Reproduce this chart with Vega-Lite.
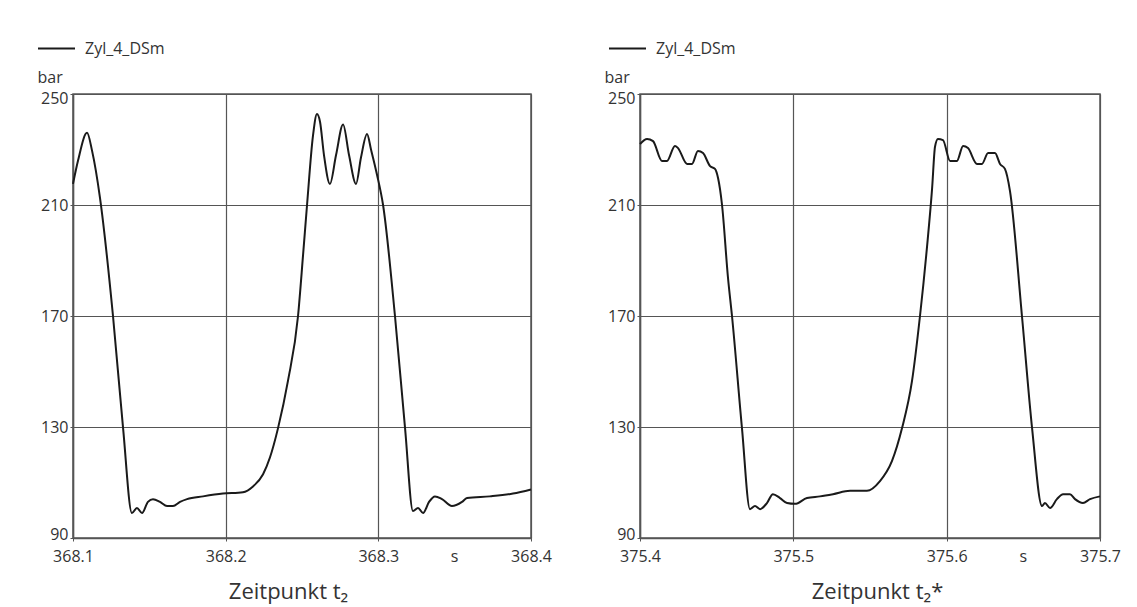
{
  "$schema": "https://vega.github.io/schema/vega-lite/v6.json",
  "background": "white",
  "padding": {"left": 36, "top": 28, "right": 5, "bottom": 5},
  "bounds": "flush",
  "spacing": 109,
  "datasets": {
    "left": [
      {"t": 368.1000, "p": 217.6, "s": "Zyl_4_DSm"},
      {"t": 368.1033, "p": 226.0, "s": "Zyl_4_DSm"},
      {"t": 368.1092, "p": 236.0, "s": "Zyl_4_DSm"},
      {"t": 368.1125, "p": 229.5, "s": "Zyl_4_DSm"},
      {"t": 368.1177, "p": 212.5, "s": "Zyl_4_DSm"},
      {"t": 368.1262, "p": 170.0, "s": "Zyl_4_DSm"},
      {"t": 368.1328, "p": 129.6, "s": "Zyl_4_DSm"},
      {"t": 368.1386, "p": 99.0, "s": "Zyl_4_DSm"},
      {"t": 368.1419, "p": 100.8, "s": "Zyl_4_DSm"},
      {"t": 368.1452, "p": 99.0, "s": "Zyl_4_DSm"},
      {"t": 368.1491, "p": 103.0, "s": "Zyl_4_DSm"},
      {"t": 368.1524, "p": 104.0, "s": "Zyl_4_DSm"},
      {"t": 368.1570, "p": 103.0, "s": "Zyl_4_DSm"},
      {"t": 368.1616, "p": 101.5, "s": "Zyl_4_DSm"},
      {"t": 368.1655, "p": 101.5, "s": "Zyl_4_DSm"},
      {"t": 368.1701, "p": 103.0, "s": "Zyl_4_DSm"},
      {"t": 368.1747, "p": 104.0, "s": "Zyl_4_DSm"},
      {"t": 368.1852, "p": 105.0, "s": "Zyl_4_DSm"},
      {"t": 368.1982, "p": 106.0, "s": "Zyl_4_DSm"},
      {"t": 368.2113, "p": 106.5, "s": "Zyl_4_DSm"},
      {"t": 368.2179, "p": 108.6, "s": "Zyl_4_DSm"},
      {"t": 368.2245, "p": 113.0, "s": "Zyl_4_DSm"},
      {"t": 368.2290, "p": 119.0, "s": "Zyl_4_DSm"},
      {"t": 368.2343, "p": 129.6, "s": "Zyl_4_DSm"},
      {"t": 368.2408, "p": 146.6, "s": "Zyl_4_DSm"},
      {"t": 368.2474, "p": 170.0, "s": "Zyl_4_DSm"},
      {"t": 368.2507, "p": 192.0, "s": "Zyl_4_DSm"},
      {"t": 368.2533, "p": 210.0, "s": "Zyl_4_DSm"},
      {"t": 368.2572, "p": 235.0, "s": "Zyl_4_DSm"},
      {"t": 368.2598, "p": 242.8, "s": "Zyl_4_DSm"},
      {"t": 368.2618, "p": 240.0, "s": "Zyl_4_DSm"},
      {"t": 368.2644, "p": 228.0, "s": "Zyl_4_DSm"},
      {"t": 368.2683, "p": 217.6, "s": "Zyl_4_DSm"},
      {"t": 368.2723, "p": 228.0, "s": "Zyl_4_DSm"},
      {"t": 368.2769, "p": 239.0, "s": "Zyl_4_DSm"},
      {"t": 368.2808, "p": 228.0, "s": "Zyl_4_DSm"},
      {"t": 368.2854, "p": 217.6, "s": "Zyl_4_DSm"},
      {"t": 368.2886, "p": 227.0, "s": "Zyl_4_DSm"},
      {"t": 368.2926, "p": 235.6, "s": "Zyl_4_DSm"},
      {"t": 368.2952, "p": 230.0, "s": "Zyl_4_DSm"},
      {"t": 368.2991, "p": 221.0, "s": "Zyl_4_DSm"},
      {"t": 368.3031, "p": 210.0, "s": "Zyl_4_DSm"},
      {"t": 368.3109, "p": 170.0, "s": "Zyl_4_DSm"},
      {"t": 368.3175, "p": 129.6, "s": "Zyl_4_DSm"},
      {"t": 368.3227, "p": 99.7, "s": "Zyl_4_DSm"},
      {"t": 368.3260, "p": 100.8, "s": "Zyl_4_DSm"},
      {"t": 368.3293, "p": 99.0, "s": "Zyl_4_DSm"},
      {"t": 368.3332, "p": 103.0, "s": "Zyl_4_DSm"},
      {"t": 368.3371, "p": 105.0, "s": "Zyl_4_DSm"},
      {"t": 368.3417, "p": 104.0, "s": "Zyl_4_DSm"},
      {"t": 368.3482, "p": 101.5, "s": "Zyl_4_DSm"},
      {"t": 368.3548, "p": 103.0, "s": "Zyl_4_DSm"},
      {"t": 368.3581, "p": 104.4, "s": "Zyl_4_DSm"},
      {"t": 368.3731, "p": 105.0, "s": "Zyl_4_DSm"},
      {"t": 368.3882, "p": 106.0, "s": "Zyl_4_DSm"},
      {"t": 368.4000, "p": 107.5, "s": "Zyl_4_DSm"}
    ],
    "right": [
      {"t": 375.4000, "p": 232.0, "s": "Zyl_4_DSm"},
      {"t": 375.4046, "p": 233.8, "s": "Zyl_4_DSm"},
      {"t": 375.4085, "p": 233.0, "s": "Zyl_4_DSm"},
      {"t": 375.4143, "p": 225.9, "s": "Zyl_4_DSm"},
      {"t": 375.4176, "p": 225.9, "s": "Zyl_4_DSm"},
      {"t": 375.4228, "p": 231.3, "s": "Zyl_4_DSm"},
      {"t": 375.4248, "p": 230.5, "s": "Zyl_4_DSm"},
      {"t": 375.4307, "p": 224.8, "s": "Zyl_4_DSm"},
      {"t": 375.4339, "p": 224.8, "s": "Zyl_4_DSm"},
      {"t": 375.4378, "p": 229.5, "s": "Zyl_4_DSm"},
      {"t": 375.4411, "p": 228.7, "s": "Zyl_4_DSm"},
      {"t": 375.4457, "p": 224.0, "s": "Zyl_4_DSm"},
      {"t": 375.4489, "p": 223.0, "s": "Zyl_4_DSm"},
      {"t": 375.4509, "p": 219.7, "s": "Zyl_4_DSm"},
      {"t": 375.4535, "p": 210.0, "s": "Zyl_4_DSm"},
      {"t": 375.4574, "p": 183.7, "s": "Zyl_4_DSm"},
      {"t": 375.4600, "p": 170.0, "s": "Zyl_4_DSm"},
      {"t": 375.4665, "p": 129.6, "s": "Zyl_4_DSm"},
      {"t": 375.4717, "p": 100.4, "s": "Zyl_4_DSm"},
      {"t": 375.4750, "p": 101.5, "s": "Zyl_4_DSm"},
      {"t": 375.4783, "p": 100.4, "s": "Zyl_4_DSm"},
      {"t": 375.4828, "p": 102.6, "s": "Zyl_4_DSm"},
      {"t": 375.4867, "p": 105.8, "s": "Zyl_4_DSm"},
      {"t": 375.4913, "p": 104.4, "s": "Zyl_4_DSm"},
      {"t": 375.4959, "p": 102.6, "s": "Zyl_4_DSm"},
      {"t": 375.5011, "p": 102.3, "s": "Zyl_4_DSm"},
      {"t": 375.5089, "p": 104.4, "s": "Zyl_4_DSm"},
      {"t": 375.5174, "p": 105.0, "s": "Zyl_4_DSm"},
      {"t": 375.5259, "p": 105.8, "s": "Zyl_4_DSm"},
      {"t": 375.5370, "p": 107.0, "s": "Zyl_4_DSm"},
      {"t": 375.5480, "p": 107.0, "s": "Zyl_4_DSm"},
      {"t": 375.5565, "p": 110.5, "s": "Zyl_4_DSm"},
      {"t": 375.5643, "p": 117.7, "s": "Zyl_4_DSm"},
      {"t": 375.5709, "p": 129.6, "s": "Zyl_4_DSm"},
      {"t": 375.5774, "p": 146.6, "s": "Zyl_4_DSm"},
      {"t": 375.5826, "p": 170.0, "s": "Zyl_4_DSm"},
      {"t": 375.5872, "p": 195.0, "s": "Zyl_4_DSm"},
      {"t": 375.5905, "p": 216.0, "s": "Zyl_4_DSm"},
      {"t": 375.5924, "p": 231.0, "s": "Zyl_4_DSm"},
      {"t": 375.5943, "p": 233.8, "s": "Zyl_4_DSm"},
      {"t": 375.5976, "p": 233.4, "s": "Zyl_4_DSm"},
      {"t": 375.6022, "p": 225.9, "s": "Zyl_4_DSm"},
      {"t": 375.6067, "p": 225.9, "s": "Zyl_4_DSm"},
      {"t": 375.6107, "p": 231.3, "s": "Zyl_4_DSm"},
      {"t": 375.6139, "p": 230.5, "s": "Zyl_4_DSm"},
      {"t": 375.6198, "p": 224.8, "s": "Zyl_4_DSm"},
      {"t": 375.6230, "p": 224.8, "s": "Zyl_4_DSm"},
      {"t": 375.6270, "p": 228.7, "s": "Zyl_4_DSm"},
      {"t": 375.6315, "p": 228.7, "s": "Zyl_4_DSm"},
      {"t": 375.6348, "p": 224.8, "s": "Zyl_4_DSm"},
      {"t": 375.6380, "p": 223.0, "s": "Zyl_4_DSm"},
      {"t": 375.6413, "p": 215.0, "s": "Zyl_4_DSm"},
      {"t": 375.6491, "p": 170.0, "s": "Zyl_4_DSm"},
      {"t": 375.6557, "p": 129.6, "s": "Zyl_4_DSm"},
      {"t": 375.6622, "p": 101.5, "s": "Zyl_4_DSm"},
      {"t": 375.6641, "p": 102.6, "s": "Zyl_4_DSm"},
      {"t": 375.6674, "p": 100.8, "s": "Zyl_4_DSm"},
      {"t": 375.6719, "p": 104.0, "s": "Zyl_4_DSm"},
      {"t": 375.6759, "p": 105.8, "s": "Zyl_4_DSm"},
      {"t": 375.6804, "p": 105.8, "s": "Zyl_4_DSm"},
      {"t": 375.6837, "p": 104.0, "s": "Zyl_4_DSm"},
      {"t": 375.6889, "p": 102.6, "s": "Zyl_4_DSm"},
      {"t": 375.6935, "p": 104.0, "s": "Zyl_4_DSm"},
      {"t": 375.7000, "p": 105.0, "s": "Zyl_4_DSm"}
    ],
    "unitLeft": [{"t": 368.35, "p": 90, "u": "s"}],
    "unitRight": [{"t": 375.65, "p": 90, "u": "s"}]
  },
  "hconcat": [
    {
      "width": 458,
      "height": 444,
      "layer": [
        {
          "data": {"name": "left"},
          "mark": {"type": "line", "interpolate": "monotone", "strokeWidth": 2},
          "encoding": {
            "x": {"field": "t", "type": "quantitative",
                  "scale": {"domain": [368.1, 368.4], "nice": false, "zero": false},
                  "axis": {"values": [368.1, 368.2, 368.3, 368.4], "format": ".1f", "title": "Zeitpunkt t₂",
                           "titleAlign": "center", "titleX": 215, "titleY": 53}},
            "y": {"field": "p", "type": "quantitative",
                  "scale": {"domain": [90, 250], "nice": false, "zero": false},
                  "axis": {"values": [90, 130, 170, 210, 250], "title": "bar"}},
            "color": {"field": "s", "type": "nominal",
                      "scale": {"range": ["#1a1a1a"]},
                      "legend": {"orient": "none", "legendX": -36, "legendY": -65, "title": null}}
          }
        },
        {
          "data": {"name": "unitLeft"},
          "mark": {"type": "text", "dy": 19, "baseline": "middle", "fontSize": 16, "font": "Open Sans", "color": "#333"},
          "encoding": {
            "x": {"field": "t", "type": "quantitative"},
            "y": {"field": "p", "type": "quantitative"},
            "text": {"field": "u"}
          }
        }
      ]
    },
    {
      "width": 460,
      "height": 444,
      "layer": [
        {
          "data": {"name": "right"},
          "mark": {"type": "line", "interpolate": "monotone", "strokeWidth": 2},
          "encoding": {
            "x": {"field": "t", "type": "quantitative",
                  "scale": {"domain": [375.4, 375.7], "nice": false, "zero": false},
                  "axis": {"values": [375.4, 375.5, 375.6, 375.7], "format": ".1f", "title": "Zeitpunkt t₂*",
                           "titleAlign": "center", "titleX": 237, "titleY": 53}},
            "y": {"field": "p", "type": "quantitative",
                  "scale": {"domain": [90, 250], "nice": false, "zero": false},
                  "axis": {"values": [90, 130, 170, 210, 250], "title": "bar"}},
            "color": {"field": "s", "type": "nominal",
                      "scale": {"range": ["#1a1a1a"]},
                      "legend": {"orient": "none", "legendX": -32, "legendY": -65, "title": null}}
          }
        },
        {
          "data": {"name": "unitRight"},
          "mark": {"type": "text", "dy": 19, "baseline": "middle", "fontSize": 16, "font": "Open Sans", "color": "#333"},
          "encoding": {
            "x": {"field": "t", "type": "quantitative"},
            "y": {"field": "p", "type": "quantitative"},
            "text": {"field": "u"}
          }
        }
      ],
      "resolve": {"scale": {"color": "independent"}}
    }
  ],
  "resolve": {"scale": {"color": "independent", "x": "independent", "y": "independent"}},
  "config": {
    "font": "Open Sans",
    "view": {"stroke": "#555", "strokeWidth": 1.5},
    "axis": {
      "grid": true,
      "gridColor": "#555",
      "gridOpacity": 1,
      "gridWidth": 1.2,
      "domainColor": "#555",
      "domainWidth": 1.5,
      "tickColor": "#555",
      "tickSize": 3,
      "labelFont": "Open Sans",
      "labelFontSize": 16,
      "labelColor": "#333",
      "titleColor": "#333",
      "titleFont": "Open Sans"
    },
    "axisX": {
      "labelPadding": 7,
      "labelFlush": false,
      "titleFontSize": 22,
      "titleFontWeight": "normal",
      "titleBaseline": "middle"
    },
    "axisY": {
      "labelFlush": true,
      "labelFlushOffset": 4,
      "labelPadding": 2,
      "titleAngle": 0,
      "titleAlign": "left",
      "titleBaseline": "middle",
      "titleX": -36,
      "titleY": -17,
      "titleFontSize": 16,
      "titleFontWeight": "normal"
    },
    "legend": {
      "symbolType": "stroke",
      "symbolStrokeWidth": 2,
      "symbolSize": 1369,
      "labelFontSize": 16,
      "labelColor": "#333",
      "labelFont": "Open Sans",
      "padding": 0,
      "labelOffset": 9
    }
  }
}
